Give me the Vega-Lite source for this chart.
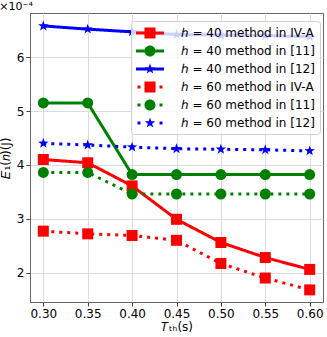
{
  "$schema": "https://vega.github.io/schema/vega-lite/v6.json",
  "width": 293,
  "height": 289,
  "autosize": "none",
  "padding": {"left": 30, "top": 13, "right": 4, "bottom": 35},
  "title": {"text": "×10⁻⁴", "anchor": "start", "fontSize": 11, "fontWeight": "normal", "font": "DejaVu Sans", "offset": 1, "color": "#000"},
  "config": {
    "font": "DejaVu Sans",
    "view": {"stroke": "#666", "strokeWidth": 1},
    "axis": {
      "labelFontSize": 12, "labelColor": "#000", "labelFont": "DejaVu Sans",
      "titleFontSize": 12, "titleFontWeight": "normal", "titleColor": "#000", "titleFont": "DejaVu Sans",
      "domainColor": "#666", "tickColor": "#444", "tickSize": 4,
      "gridColor": "#dcdcdc", "gridWidth": 1, "labelPadding": 2
    },
    "legend": {
      "orient": "none", "legendX": 101, "legendY": 8,
      "fillColor": "rgba(255,255,255,0.8)", "strokeColor": "#d0d0d0", "cornerRadius": 3,
      "padding": 5, "rowPadding": 5, "labelFontSize": 12, "labelFont": "DejaVu Sans", "labelColor": "#000", "labelLimit": 0,
      "symbolSize": 196, "symbolOffset": 7, "labelOffset": 24, "symbolOpacity": 1, "symbolStrokeWidth": 0
    }
  },
  "data": {"values": [
    {"series": "ℎ = 40 method in IV-A", "x": 0.30, "y": 4.10},
    {"series": "ℎ = 40 method in IV-A", "x": 0.35, "y": 4.04},
    {"series": "ℎ = 40 method in IV-A", "x": 0.40, "y": 3.61},
    {"series": "ℎ = 40 method in IV-A", "x": 0.45, "y": 2.99},
    {"series": "ℎ = 40 method in IV-A", "x": 0.50, "y": 2.56},
    {"series": "ℎ = 40 method in IV-A", "x": 0.55, "y": 2.28},
    {"series": "ℎ = 40 method in IV-A", "x": 0.60, "y": 2.06},
    {"series": "ℎ = 40 method in [11]", "x": 0.30, "y": 5.15},
    {"series": "ℎ = 40 method in [11]", "x": 0.35, "y": 5.15},
    {"series": "ℎ = 40 method in [11]", "x": 0.40, "y": 3.82},
    {"series": "ℎ = 40 method in [11]", "x": 0.45, "y": 3.82},
    {"series": "ℎ = 40 method in [11]", "x": 0.50, "y": 3.82},
    {"series": "ℎ = 40 method in [11]", "x": 0.55, "y": 3.82},
    {"series": "ℎ = 40 method in [11]", "x": 0.60, "y": 3.82},
    {"series": "ℎ = 40 method in [12]", "x": 0.30, "y": 6.58},
    {"series": "ℎ = 40 method in [12]", "x": 0.35, "y": 6.52},
    {"series": "ℎ = 40 method in [12]", "x": 0.40, "y": 6.47},
    {"series": "ℎ = 40 method in [12]", "x": 0.45, "y": 6.42},
    {"series": "ℎ = 40 method in [12]", "x": 0.50, "y": 6.41},
    {"series": "ℎ = 40 method in [12]", "x": 0.55, "y": 6.40},
    {"series": "ℎ = 40 method in [12]", "x": 0.60, "y": 6.38},
    {"series": "ℎ = 60 method in IV-A", "x": 0.30, "y": 2.77},
    {"series": "ℎ = 60 method in IV-A", "x": 0.35, "y": 2.72},
    {"series": "ℎ = 60 method in IV-A", "x": 0.40, "y": 2.69},
    {"series": "ℎ = 60 method in IV-A", "x": 0.45, "y": 2.60},
    {"series": "ℎ = 60 method in IV-A", "x": 0.50, "y": 2.17},
    {"series": "ℎ = 60 method in IV-A", "x": 0.55, "y": 1.90},
    {"series": "ℎ = 60 method in IV-A", "x": 0.60, "y": 1.68},
    {"series": "ℎ = 60 method in [11]", "x": 0.30, "y": 3.86},
    {"series": "ℎ = 60 method in [11]", "x": 0.35, "y": 3.86},
    {"series": "ℎ = 60 method in [11]", "x": 0.40, "y": 3.46},
    {"series": "ℎ = 60 method in [11]", "x": 0.45, "y": 3.46},
    {"series": "ℎ = 60 method in [11]", "x": 0.50, "y": 3.46},
    {"series": "ℎ = 60 method in [11]", "x": 0.55, "y": 3.46},
    {"series": "ℎ = 60 method in [11]", "x": 0.60, "y": 3.46},
    {"series": "ℎ = 60 method in [12]", "x": 0.30, "y": 4.40},
    {"series": "ℎ = 60 method in [12]", "x": 0.35, "y": 4.37},
    {"series": "ℎ = 60 method in [12]", "x": 0.40, "y": 4.33},
    {"series": "ℎ = 60 method in [12]", "x": 0.45, "y": 4.30},
    {"series": "ℎ = 60 method in [12]", "x": 0.50, "y": 4.29},
    {"series": "ℎ = 60 method in [12]", "x": 0.55, "y": 4.28},
    {"series": "ℎ = 60 method in [12]", "x": 0.60, "y": 4.26}
  ]},
  "encoding": {
    "x": {"field": "x", "type": "quantitative",
      "scale": {"domain": [0.285, 0.615], "nice": false, "zero": false},
      "axis": {"values": [0.30, 0.35, 0.40, 0.45, 0.50, 0.55, 0.60], "format": ".2f", "title": "𝑇ₜₕ(s)", "titlePadding": 2}},
    "y": {"field": "y", "type": "quantitative",
      "scale": {"domain": [1.455, 6.82], "nice": false, "zero": false},
      "axis": {"values": [2, 3, 4, 5, 6], "format": "d", "title": "𝐸₁(𝑛)(J)", "titlePadding": 4}}
  },
  "resolve": {
    "scale": {"shape": "independent"},
    "legend": {"color": "independent", "shape": "independent", "strokeDash": "independent"}
  },
  "layer": [
    {
      "mark": {"type": "point", "filled": true, "opacity": 0, "size": 121, "strokeWidth": 0},
      "encoding": {
        "color": {"field": "series", "type": "nominal",
          "scale": {"domain": ["ℎ = 40 method in IV-A", "ℎ = 40 method in [11]", "ℎ = 40 method in [12]", "ℎ = 60 method in IV-A", "ℎ = 60 method in [11]", "ℎ = 60 method in [12]"],
                    "range": ["#ff0000", "#008000", "#0000ff", "#ff0000", "#008000", "#0000ff"]},
          "legend": {"title": null}},
        "shape": {"field": "series", "type": "nominal",
          "scale": {"domain": ["ℎ = 40 method in IV-A", "ℎ = 40 method in [11]", "ℎ = 40 method in [12]", "ℎ = 60 method in IV-A", "ℎ = 60 method in [11]", "ℎ = 60 method in [12]"],
                    "range": ["M-2,-0.21H2V0.21H-2Z M-0.79,-0.79H0.79V0.79H-0.79Z", "M-2,-0.21H2V0.21H-2Z M-0.79,0A0.79,0.79 0 1,1 0.79,0A0.79,0.79 0 1,1 -0.79,0Z", "M-2,-0.21H2V0.21H-2Z M0,-0.79L0.186,-0.256L0.751,-0.244L0.3,0.098L0.465,0.639L0,0.316L-0.465,0.639L-0.3,0.098L-0.751,-0.244L-0.186,-0.256Z", "M-1.79,-0.21H-1.36V0.21H-1.79Z M1.36,-0.21H1.79V0.21H1.36Z M-0.79,-0.79H0.79V0.79H-0.79Z", "M-1.79,-0.21H-1.36V0.21H-1.79Z M1.36,-0.21H1.79V0.21H1.36Z M-0.79,0A0.79,0.79 0 1,1 0.79,0A0.79,0.79 0 1,1 -0.79,0Z", "M-1.79,-0.21H-1.36V0.21H-1.79Z M1.36,-0.21H1.79V0.21H1.36Z M0,-0.79L0.186,-0.256L0.751,-0.244L0.3,0.098L0.465,0.639L0,0.316L-0.465,0.639L-0.3,0.098L-0.751,-0.244L-0.186,-0.256Z"]},
          "legend": {"title": null}}
      }
    },
    {
      "mark": {"type": "line", "strokeWidth": 3, "strokeCap": "butt"},
      "encoding": {
        "color": {"field": "series", "type": "nominal", "legend": null},
        "strokeDash": {"field": "series", "type": "nominal",
          "scale": {"domain": ["ℎ = 40 method in IV-A", "ℎ = 40 method in [11]", "ℎ = 40 method in [12]", "ℎ = 60 method in IV-A", "ℎ = 60 method in [11]", "ℎ = 60 method in [12]"],
                    "range": [[1, 0], [1, 0], [1, 0], [3, 5], [3, 5], [3, 5]]},
          "legend": null}
      }
    },
    {
      "mark": {"type": "point", "filled": true, "opacity": 1, "size": 121, "strokeWidth": 0},
      "encoding": {
        "color": {"field": "series", "type": "nominal", "legend": null},
        "shape": {"field": "series", "type": "nominal",
          "scale": {"domain": ["ℎ = 40 method in IV-A", "ℎ = 40 method in [11]", "ℎ = 40 method in [12]", "ℎ = 60 method in IV-A", "ℎ = 60 method in [11]", "ℎ = 60 method in [12]"],
                    "range": ["square", "circle", "M0,-1L0.235,-0.324L0.951,-0.309L0.38,0.124L0.588,0.809L0,0.4L-0.588,0.809L-0.38,0.124L-0.951,-0.309L-0.235,-0.324Z", "square", "circle", "M0,-1L0.235,-0.324L0.951,-0.309L0.38,0.124L0.588,0.809L0,0.4L-0.588,0.809L-0.38,0.124L-0.951,-0.309L-0.235,-0.324Z"]},
          "legend": null}
      }
    }
  ]
}
